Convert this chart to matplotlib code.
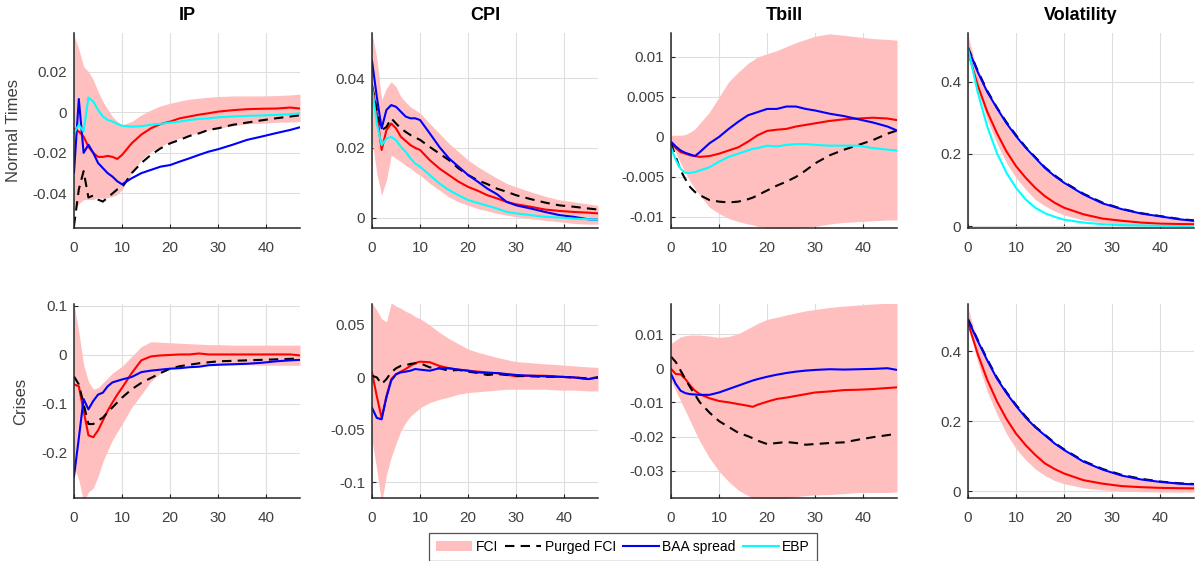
import matplotlib
matplotlib.use("Agg")
import matplotlib.pyplot as plt
from matplotlib.patches import Patch
from matplotlib.lines import Line2D

plt.rcParams['font.family'] = ['Liberation Sans', 'DejaVu Sans']
plt.rcParams['axes.unicode_minus'] = False

# ---------------- data ----------------
H_A = [0, 1, 2, 3, 4, 5, 6, 7, 8, 9, 10, 12, 14, 16, 18, 20, 22, 24, 26, 28, 30, 33, 36, 39, 42, 45, 47]
H_B = [0, 1, 2, 3, 4, 5, 6, 8, 10, 12, 14, 16, 17, 18, 20, 22, 24, 26, 28, 30, 33, 36, 39, 42, 45, 47]
H_C = [0, 2, 4, 6, 8, 10, 12, 14, 16, 18, 20, 24, 28, 32, 36, 40, 44, 47]

# Normal times - IP
ip_n_fci = [-0.008, -0.0095, -0.012, -0.017, -0.020, -0.022, -0.022, -0.0215, -0.022, -0.023, -0.021, -0.0153, -0.011, -0.0079, -0.0058, -0.0046, -0.003, -0.0021, -0.0012, -0.0005, 0.0003, 0.001, 0.0015, 0.0017, 0.0018, 0.0023, 0.0018]
ip_n_purged = [-0.056, -0.038, -0.029, -0.042, -0.041, -0.043, -0.044, -0.042, -0.040, -0.038, -0.037, -0.030, -0.025, -0.021, -0.0178, -0.0153, -0.0136, -0.0117, -0.0104, -0.0087, -0.0079, -0.0062, -0.0051, -0.004, -0.003, -0.0021, -0.0015]
ip_n_baa = [-0.0297, 0.0065, -0.020, -0.016, -0.020, -0.025, -0.0275, -0.030, -0.0317, -0.034, -0.0355, -0.0325, -0.030, -0.0284, -0.0268, -0.026, -0.0243, -0.0227, -0.021, -0.0194, -0.0182, -0.016, -0.0136, -0.012, -0.0103, -0.0087, -0.0074]
ip_n_ebp = [-0.0103, -0.0062, -0.0095, 0.0072, 0.0053, 0.0011, -0.0021, -0.0038, -0.0046, -0.0057, -0.0067, -0.0071, -0.0069, -0.0062, -0.0057, -0.0051, -0.0046, -0.0038, -0.0033, -0.003, -0.0025, -0.0021, -0.0018, -0.0016, -0.0013, -0.001, -0.0005]
ip_n_hi = [0.038, 0.031, 0.0225, 0.020, 0.016, 0.0102, 0.0053, 0.0015, -0.0021, -0.0045, -0.0062, -0.0046, -0.0013, 0.0011, 0.0031, 0.0044, 0.0055, 0.0064, 0.0069, 0.0074, 0.0077, 0.008, 0.008, 0.008, 0.0082, 0.0085, 0.0089]
ip_n_lo = [-0.049, -0.045, -0.043, -0.043, -0.043, -0.042, -0.0425, -0.042, -0.0415, -0.0405, -0.038, -0.030, -0.0235, -0.0194, -0.0169, -0.0144, -0.0128, -0.0112, -0.010, -0.0087, -0.0079, -0.0067, -0.0057, -0.0054, -0.005, -0.0048, -0.0046]

# Normal times - CPI
cpi_n_fci = [0.0381, 0.030, 0.0194, 0.0251, 0.027, 0.0256, 0.0232, 0.022, 0.0208, 0.020, 0.0194, 0.0165, 0.0141, 0.0122, 0.0103, 0.0088, 0.0077, 0.0064, 0.0055, 0.0045, 0.0038, 0.0031, 0.0023, 0.0019, 0.0016, 0.0014, 0.0012]
cpi_n_purged = [0.0378, 0.031, 0.0251, 0.026, 0.0285, 0.027, 0.0256, 0.0246, 0.0237, 0.023, 0.0223, 0.0203, 0.0184, 0.0165, 0.0141, 0.0122, 0.0107, 0.0096, 0.0083, 0.0074, 0.0064, 0.0053, 0.0043, 0.0035, 0.0031, 0.0026, 0.0023]
cpi_n_baa = [0.045, 0.0347, 0.0256, 0.0309, 0.0323, 0.0318, 0.0304, 0.029, 0.0285, 0.0285, 0.028, 0.0242, 0.0203, 0.017, 0.0146, 0.0122, 0.0103, 0.0083, 0.0067, 0.0045, 0.0035, 0.0026, 0.0016, 0.0007, 0.0002, -0.0005, -0.0006]
cpi_n_ebp = [0.0374, 0.027, 0.0208, 0.0227, 0.0232, 0.0222, 0.0203, 0.0189, 0.017, 0.0155, 0.0146, 0.0122, 0.0098, 0.0079, 0.0064, 0.005, 0.0042, 0.0034, 0.0026, 0.0016, 0.0012, 0.0007, 0.0002, 0.0, -0.0003, -0.0005, -0.0006]
cpi_n_hi = [0.053, 0.0458, 0.0338, 0.0371, 0.039, 0.0376, 0.0347, 0.0332, 0.0318, 0.0309, 0.030, 0.027, 0.0242, 0.0213, 0.0189, 0.0165, 0.0146, 0.0129, 0.0113, 0.0098, 0.0088, 0.0074, 0.0061, 0.0051, 0.0045, 0.0039, 0.0035]
cpi_n_lo = [0.0223, 0.0127, 0.0064, 0.0107, 0.0179, 0.017, 0.016, 0.015, 0.0141, 0.013, 0.0122, 0.0098, 0.0079, 0.0059, 0.0045, 0.0035, 0.0026, 0.0019, 0.0012, 0.0007, 0.0002, -0.0003, -0.0008, -0.0012, -0.0017, -0.0019, -0.0019]

# Normal times - Tbill
tb_n_fci = [-0.0008, -0.0014, -0.0019, -0.0021, -0.0023, -0.0024, -0.0025, -0.0024, -0.0021, -0.0017, -0.0013, -0.0006, -0.0002, 0.0002, 0.00075, 0.0009, 0.001, 0.0013, 0.0015, 0.0017, 0.002, 0.0022, 0.0023, 0.0024, 0.0023, 0.0021]
tb_n_purged = [-0.0008, -0.0025, -0.0042, -0.0053, -0.0063, -0.0069, -0.0073, -0.0079, -0.0081, -0.0082, -0.0081, -0.0078, -0.0076, -0.0073, -0.0067, -0.0061, -0.0056, -0.005, -0.0042, -0.0033, -0.0023, -0.0016, -0.001, -0.0004, 0.0004, 0.0008]
tb_n_baa = [-0.0006, -0.0012, -0.0017, -0.002, -0.0022, -0.0024, -0.0019, -0.0008, 0.0, 0.001, 0.0019, 0.0027, 0.0029, 0.0031, 0.0035, 0.0035, 0.0038, 0.0038, 0.0035, 0.0033, 0.0029, 0.0026, 0.0022, 0.0018, 0.0013, 0.0008]
tb_n_ebp = [-0.0013, -0.0029, -0.004, -0.0045, -0.0045, -0.0044, -0.0042, -0.0038, -0.0031, -0.0025, -0.0021, -0.0017, -0.0015, -0.0014, -0.0011, -0.0012, -0.001, -0.0009, -0.0009, -0.001, -0.0011, -0.0011, -0.0011, -0.0014, -0.0016, -0.0017]
tb_n_hi = [0.0002, 0.0002, 0.0002, 0.0003, 0.0006, 0.001, 0.0017, 0.0031, 0.005, 0.0069, 0.0081, 0.0092, 0.0096, 0.010, 0.0104, 0.0108, 0.0113, 0.0118, 0.0122, 0.0126, 0.0129, 0.0127, 0.0125, 0.0123, 0.0122, 0.0121]
tb_n_lo = [-0.0006, -0.002, -0.0033, -0.0045, -0.0056, -0.0065, -0.0073, -0.0088, -0.0096, -0.0102, -0.0106, -0.0109, -0.011, -0.0112, -0.0114, -0.0115, -0.0115, -0.0114, -0.0113, -0.0112, -0.0109, -0.0107, -0.0106, -0.0105, -0.0104, -0.0104]

# Normal times - Volatility
vol_n_fci = [0.483, 0.391, 0.317, 0.258, 0.207, 0.166, 0.134, 0.106, 0.083, 0.065, 0.051, 0.033, 0.021, 0.015, 0.010, 0.007, 0.006, 0.0055]
vol_n_purged = [0.495, 0.431, 0.375, 0.329, 0.288, 0.252, 0.219, 0.191, 0.163, 0.141, 0.122, 0.090, 0.065, 0.048, 0.036, 0.028, 0.020, 0.016]
vol_n_baa = [0.492, 0.428, 0.372, 0.327, 0.285, 0.249, 0.217, 0.189, 0.161, 0.139, 0.120, 0.088, 0.063, 0.047, 0.035, 0.027, 0.019, 0.015]
vol_n_ebp = [0.492, 0.372, 0.276, 0.203, 0.148, 0.106, 0.074, 0.051, 0.036, 0.026, 0.018, 0.010, 0.0055, 0.003, 0.002, 0.001, 0.0005, 0.0]
vol_n_hi = [0.53, 0.425, 0.365, 0.32, 0.278, 0.243, 0.211, 0.183, 0.157, 0.135, 0.116, 0.085, 0.06, 0.045, 0.033, 0.025, 0.019, 0.016]
vol_n_lo = [0.473, 0.377, 0.294, 0.23, 0.175, 0.134, 0.102, 0.074, 0.056, 0.042, 0.031, 0.017, 0.010, 0.006, 0.004, 0.003, 0.003, 0.003]

# Crises - IP
ip_c_fci = [-0.060, -0.064, -0.114, -0.164, -0.168, -0.154, -0.134, -0.114, -0.097, -0.081, -0.067, -0.037, -0.011, -0.003, -0.001, 0.0, 0.001, 0.001, 0.003, 0.001, 0.001, 0.001, 0.001, 0.001, 0.001, 0.001, -0.001]
ip_c_purged = [-0.044, -0.060, -0.100, -0.141, -0.141, -0.134, -0.128, -0.117, -0.107, -0.097, -0.087, -0.070, -0.057, -0.047, -0.037, -0.028, -0.023, -0.020, -0.017, -0.015, -0.013, -0.012, -0.011, -0.010, -0.009, -0.008, -0.007]
ip_c_baa = [-0.248, -0.170, -0.090, -0.111, -0.094, -0.081, -0.077, -0.064, -0.056, -0.053, -0.050, -0.045, -0.035, -0.032, -0.030, -0.028, -0.027, -0.025, -0.024, -0.021, -0.020, -0.019, -0.018, -0.016, -0.013, -0.011, -0.010]
ip_c_hi = [0.104, 0.047, -0.02, -0.054, -0.07, -0.067, -0.057, -0.047, -0.037, -0.030, -0.023, -0.003, 0.017, 0.027, 0.026, 0.025, 0.024, 0.023, 0.022, 0.021, 0.021, 0.020, 0.020, 0.020, 0.020, 0.020, 0.020]
ip_c_lo = [-0.228, -0.255, -0.30, -0.28, -0.272, -0.248, -0.218, -0.195, -0.174, -0.157, -0.141, -0.107, -0.081, -0.054, -0.037, -0.027, -0.024, -0.022, -0.021, -0.020, -0.020, -0.020, -0.020, -0.021, -0.021, -0.021, -0.021]

# Crises - CPI
cpi_c_fci = [0.0048, -0.018, -0.0386, -0.018, -0.0016, 0.003, 0.0055, 0.008, 0.011, 0.0138, 0.015, 0.0145, 0.011, 0.0087, 0.0074, 0.0064, 0.0055, 0.0048, 0.004, 0.0026, 0.001, 0.0016, 0.0016, 0.0006, 0.0, -0.0016, 0.0]
cpi_c_purged = [0.0016, 0.0, -0.0064, -0.0016, 0.0048, 0.0087, 0.011, 0.0116, 0.0129, 0.0135, 0.0135, 0.0096, 0.0087, 0.0064, 0.0071, 0.0055, 0.0042, 0.0023, 0.0032, 0.0023, 0.0016, 0.001, 0.0006, 0.0006, 0.0, -0.001, 0.0]
cpi_c_baa = [-0.029, -0.0386, -0.040, -0.019, -0.003, 0.003, 0.0048, 0.0055, 0.0064, 0.008, 0.0074, 0.0064, 0.0087, 0.0087, 0.0074, 0.0064, 0.0048, 0.0042, 0.0042, 0.0032, 0.0023, 0.0016, 0.001, 0.0006, 0.0, -0.0016, 0.0]
cpi_c_hi = [0.071, 0.064, 0.056, 0.053, 0.071, 0.068, 0.066, 0.063, 0.061, 0.058, 0.056, 0.050, 0.043, 0.037, 0.032, 0.027, 0.024, 0.0215, 0.019, 0.017, 0.015, 0.014, 0.0129, 0.012, 0.011, 0.010, 0.0096]
cpi_c_lo = [-0.0595, -0.088, -0.12, -0.093, -0.076, -0.063, -0.051, -0.043, -0.037, -0.033, -0.029, -0.024, -0.021, -0.0187, -0.016, -0.0145, -0.0137, -0.0129, -0.0121, -0.0113, -0.0113, -0.0113, -0.0113, -0.0121, -0.0121, -0.0129, -0.0129]

# Crises - Tbill
tb_c_fci = [-0.0002, -0.0017, -0.0018, -0.0032, -0.0051, -0.0066, -0.0076, -0.0088, -0.0096, -0.010, -0.0105, -0.011, -0.0113, -0.0107, -0.0098, -0.009, -0.0086, -0.0081, -0.0076, -0.0071, -0.0068, -0.0064, -0.0063, -0.0061, -0.0058, -0.0056]
tb_c_purged = [0.0034, 0.0018, -0.0007, -0.0032, -0.0056, -0.0078, -0.010, -0.013, -0.0155, -0.0172, -0.0189, -0.0199, -0.0205, -0.0212, -0.0222, -0.0219, -0.0216, -0.0219, -0.0224, -0.0222, -0.0219, -0.0217, -0.0209, -0.0202, -0.0196, -0.0192]
tb_c_baa = [-0.0017, -0.0046, -0.0066, -0.0073, -0.0076, -0.0077, -0.0078, -0.0078, -0.0071, -0.0061, -0.0051, -0.0041, -0.0036, -0.0032, -0.0025, -0.0019, -0.0014, -0.001, -0.0007, -0.0005, -0.0003, -0.0004, -0.0003, -0.0002, 0.0, -0.0005]
tb_c_hi = [0.0072, 0.0082, 0.0092, 0.0095, 0.0097, 0.0097, 0.0097, 0.0094, 0.009, 0.0093, 0.0101, 0.0116, 0.0123, 0.0131, 0.0143, 0.0149, 0.0156, 0.0162, 0.0168, 0.0172, 0.0178, 0.0182, 0.0185, 0.0188, 0.019, 0.019]
tb_c_lo = [-0.0036, -0.0066, -0.0096, -0.0125, -0.0155, -0.0185, -0.0214, -0.0263, -0.0302, -0.0332, -0.0357, -0.0373, -0.038, -0.0386, -0.0389, -0.0386, -0.0381, -0.0376, -0.0373, -0.0371, -0.037, -0.0367, -0.0364, -0.0364, -0.0364, -0.0362]

# Crises - Volatility
vol_c_fci = [0.481, 0.393, 0.318, 0.257, 0.206, 0.164, 0.131, 0.103, 0.079, 0.063, 0.050, 0.031, 0.021, 0.014, 0.011, 0.009, 0.008, 0.0075]
vol_c_purged = [0.492, 0.433, 0.377, 0.325, 0.283, 0.246, 0.213, 0.184, 0.161, 0.138, 0.119, 0.086, 0.063, 0.046, 0.035, 0.027, 0.022, 0.020]
vol_c_baa = [0.489, 0.43, 0.374, 0.322, 0.28, 0.243, 0.21, 0.182, 0.159, 0.136, 0.117, 0.084, 0.061, 0.044, 0.033, 0.026, 0.021, 0.019]
vol_c_hi = [0.525, 0.425, 0.368, 0.316, 0.274, 0.237, 0.205, 0.177, 0.154, 0.132, 0.113, 0.081, 0.058, 0.042, 0.031, 0.025, 0.02, 0.018]
vol_c_lo = [0.477, 0.369, 0.285, 0.22, 0.164, 0.121, 0.089, 0.063, 0.044, 0.030, 0.021, 0.009, 0.003, 0.0, -0.002, -0.003, -0.003, -0.003]

titles = ['IP', 'CPI', 'Tbill', 'Volatility']
row_labels = ['Normal Times', 'Crises']
legend_labels = ['FCI', 'Purged FCI', 'BAA spread', 'EBP']
x_ticks = [0, 10, 20, 30, 40]

y_ticks = [
    [[-0.04, -0.02, 0, 0.02], [0, 0.02, 0.04], [-0.01, -0.005, 0, 0.005, 0.01], [0, 0.2, 0.4]],
    [[-0.2, -0.1, 0, 0.1], [-0.1, -0.05, 0, 0.05], [-0.03, -0.02, -0.01, 0, 0.01], [0, 0.2, 0.4]],
]
y_lims = [
    [(-0.057, 0.039), (-0.003, 0.053), (-0.0114, 0.013), (-0.005, 0.535)],
    [(-0.292, 0.104), (-0.115, 0.070), (-0.038, 0.0188), (-0.02, 0.535)],
]

panels = [
    [
        (H_A, ip_n_lo, ip_n_hi, ip_n_fci, ip_n_purged, ip_n_baa, ip_n_ebp),
        (H_A, cpi_n_lo, cpi_n_hi, cpi_n_fci, cpi_n_purged, cpi_n_baa, cpi_n_ebp),
        (H_B, tb_n_lo, tb_n_hi, tb_n_fci, tb_n_purged, tb_n_baa, tb_n_ebp),
        (H_C, vol_n_lo, vol_n_hi, vol_n_fci, vol_n_purged, vol_n_baa, vol_n_ebp),
    ],
    [
        (H_A, ip_c_lo, ip_c_hi, ip_c_fci, ip_c_purged, ip_c_baa, None),
        (H_A, cpi_c_lo, cpi_c_hi, cpi_c_fci, cpi_c_purged, cpi_c_baa, None),
        (H_B, tb_c_lo, tb_c_hi, tb_c_fci, tb_c_purged, tb_c_baa, None),
        (H_C, vol_c_lo, vol_c_hi, vol_c_fci, vol_c_purged, vol_c_baa, None),
    ],
]

# ---------------- style ----------------
BAND = '#FFBFBF'
RED = '#FF0000'
BLUE = '#0000FF'
CYAN = '#00FFFF'
AXC = '#262626'
TICKC = '#404040'
LW = 1.5
DASH = (0, (4.5, 3))

W, Hpx = 1195, 561
fig = plt.figure(figsize=(W / 100, Hpx / 100), dpi=100)

col_left = [74, 372, 671, 968]
ax_w = 226
row_top = [33, 304]
row_bot = [228, 498]

for r in range(2):
    for c in range(4):
        left = col_left[c] / W
        bottom = 1 - row_bot[r] / Hpx
        height = (row_bot[r] - row_top[r]) / Hpx
        ax = fig.add_axes([left, bottom, ax_w / W, height])
        h, lo, hi, fci, purged, baa, ebp = panels[r][c]
        ax.fill_between(h, lo, hi, color=BAND, lw=0, zorder=1)
        ax.plot(h, fci, color=RED, lw=LW, zorder=3)
        ax.plot(h, purged, color='black', lw=LW, ls=DASH, zorder=3)
        ax.plot(h, baa, color=BLUE, lw=LW, zorder=4)
        if ebp is not None:
            ax.plot(h, ebp, color=CYAN, lw=LW, zorder=5)
        ax.set_xlim(0, 47)
        ax.set_ylim(*y_lims[r][c])
        ax.set_xticks(x_ticks)
        ax.set_yticks(y_ticks[r][c])
        ax.set_yticklabels(['%g' % v for v in y_ticks[r][c]])
        ax.set_axisbelow(True)
        ax.grid(True, color='#DEDEDE', lw=0.8)
        for s in ['top', 'right']:
            ax.spines[s].set_visible(False)
        for s in ['left', 'bottom']:
            ax.spines[s].set_color(AXC)
            ax.spines[s].set_linewidth(1.1)
            ax.spines[s].set_zorder(6)
        ax.tick_params(direction='in', length=3, width=0.8, color=AXC,
                       labelsize=11, labelcolor=TICKC)
        ax.tick_params(axis='x', pad=9)
        ax.tick_params(axis='y', pad=5)
        if r == 0:
            ax.set_title(titles[c], fontsize=13, fontweight='bold', pad=9)
        if c == 0:
            ax.set_ylabel(row_labels[r], fontsize=12, color=TICKC)
            ax.yaxis.set_label_coords(-0.235 if r == 0 else -0.205, 0.5)

handles = [
    Patch(facecolor=BAND, edgecolor='none'),
    Line2D([], [], color='black', lw=LW, ls=DASH),
    Line2D([], [], color=BLUE, lw=LW),
    Line2D([], [], color=CYAN, lw=LW),
]
leg = fig.legend(handles, legend_labels, loc='upper center', ncol=4,
                 bbox_to_anchor=(623 / W, 1 - 533 / Hpx), frameon=True,
                 fancybox=False, fontsize=10, handlelength=2.6,
                 handletextpad=0.25, columnspacing=0.5, borderpad=0.5,
                 borderaxespad=0)
leg.get_frame().set_edgecolor(AXC)
leg.get_frame().set_linewidth(0.9)

fig.savefig('out.png', dpi=100)
